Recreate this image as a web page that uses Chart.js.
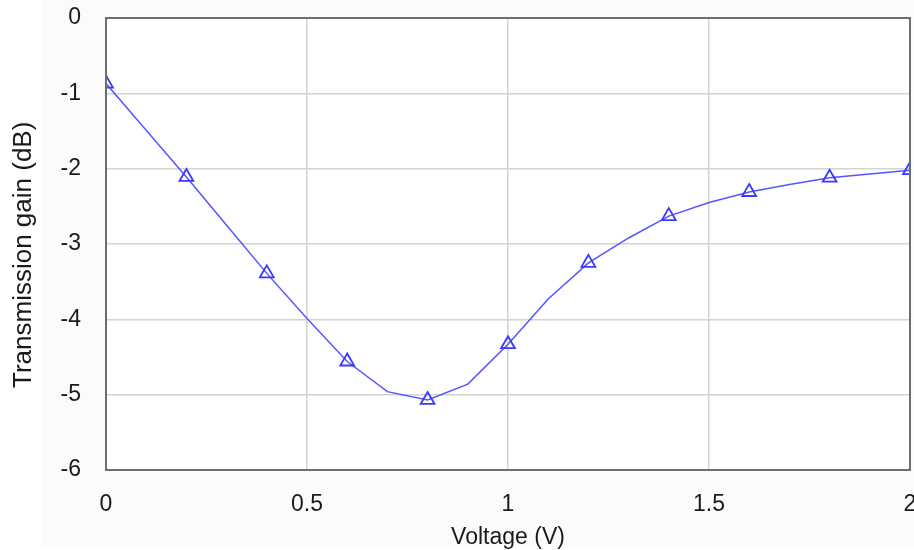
<!DOCTYPE html>
<html>
<head>
<meta charset="utf-8">
<script src="https://cdn.jsdelivr.net/npm/chart.js@4"></script>
<style>
  html, body { margin: 0; padding: 0; background: #ffffff; }
  #wrap { width: 914px; height: 550px; }
</style>
</head>
<body>
<div id="wrap"><canvas id="c" width="914" height="550"></canvas></div>
<script>
// ---- data ----
const voltage = [0, 0.1, 0.2, 0.3, 0.4, 0.5, 0.6, 0.7, 0.8, 0.9, 1.0, 1.1, 1.2, 1.3, 1.4, 1.5, 1.6, 1.7, 1.8, 1.9, 2.0];
const gain = [-0.87, -1.49, -2.11, -2.75, -3.39, -3.99, -4.56, -4.96, -5.07, -4.86, -4.33, -3.73, -3.25, -2.92, -2.63, -2.45, -2.31, -2.21, -2.12, -2.07, -2.02];
const markerVoltages = [0, 0.2, 0.4, 0.6, 0.8, 1.0, 1.2, 1.4, 1.6, 1.8, 2.0];
const xTickLabels = ['0', '0.5', '1', '1.5', '2'];
const yTickLabels = ['0', '-1', '-2', '-3', '-4', '-5', '-6'];
const xTitle = 'Voltage (V)';
const yTitle = 'Transmission gain (dB)';

const linePts = voltage.map((v, i) => ({ x: v, y: gain[i] }));
const markerPts = markerVoltages.map(v => {
  const i = voltage.findIndex(u => Math.abs(u - v) < 1e-9);
  return { x: v, y: gain[i] };
});

const FONT = "'Liberation Sans', Arial, sans-serif";

const frame = {
  id: 'frame',
  beforeDraw(chart) {
    const ctx = chart.ctx;
    ctx.save();
    ctx.fillStyle = '#ffffff';
    ctx.fillRect(0, 0, chart.width, chart.height);
    ctx.fillStyle = '#fbfbfb';
    ctx.fillRect(43, 0, chart.width - 43, 547);
    const a = chart.chartArea;
    ctx.fillStyle = '#ffffff';
    ctx.fillRect(a.left, a.top, a.right - a.left, a.bottom - a.top);
    ctx.restore();
  },
  afterDatasetsDraw(chart) {
    const ctx = chart.ctx, a = chart.chartArea;
    ctx.save();
    ctx.strokeStyle = '#6e6e6e';
    ctx.lineWidth = 2;
    ctx.strokeRect(a.left, a.top, a.right - a.left, a.bottom - a.top);
    ctx.restore();
  }
};

new Chart(document.getElementById('c'), {
  type: 'scatter',
  data: {
    datasets: [
      {
        data: linePts,
        showLine: true,
        borderColor: '#5555ff',
        borderWidth: 1.5,
        pointRadius: 0,
        tension: 0,
        clip: 0,
        order: 2
      },
      {
        data: markerPts,
        showLine: false,
        pointStyle: 'triangle',
        pointRadius: 8,
        pointBorderWidth: 1.8,
        pointBorderColor: '#3a3aff',
        pointBackgroundColor: 'rgba(0,0,0,0)',
        clip: 0,
        order: 1
      }
    ]
  },
  options: {
    responsive: false,
    animation: false,
    devicePixelRatio: 1,
    layout: { autoPadding: false, padding: { top: 18, right: 4, left: 0, bottom: 0 } },
    plugins: { legend: { display: false }, tooltip: { enabled: false } },
    scales: {
      x: {
        type: 'linear',
        min: 0, max: 2,
        afterBuildTicks(s) { s.ticks = xTickLabels.map(t => ({ value: parseFloat(t) })); },
        afterFit(s) { s.height = 80; s.paddingLeft = 0; s.paddingRight = 0; },
        ticks: {
          autoSkip: false,
          maxRotation: 0,
          padding: 21,
          color: '#1a1a1a',
          font: { family: FONT, size: 23 },
          callback: (v) => xTickLabels.find(t => parseFloat(t) === v) ?? ''
        },
        grid: { color: '#d3d3d3', lineWidth: 1.5, drawTicks: false },
        border: { display: false },
        title: {
          display: true, text: xTitle, color: '#1a1a1a',
          font: { family: FONT, size: 23, lineHeight: 1 },
          padding: { top: 0, bottom: 1 }
        }
      },
      y: {
        type: 'linear',
        min: -6, max: 0,
        afterBuildTicks(s) { s.ticks = yTickLabels.map(t => ({ value: parseFloat(t) })); },
        afterFit(s) { s.width = 106; s.paddingTop = 0; s.paddingBottom = 0; },
        ticks: {
          autoSkip: false,
          padding: 25,
          color: '#1a1a1a',
          font: { family: FONT, size: 23 },
          callback: (v) => yTickLabels.find(t => parseFloat(t) === v) ?? ''
        },
        grid: { color: '#d3d3d3', lineWidth: 1.5, drawTicks: false },
        border: { display: false },
        title: {
          display: true, text: yTitle + '   ', color: '#1a1a1a',
          font: { family: FONT, size: 26, lineHeight: 1.2 },
          padding: { top: 8, bottom: 0 }
        }
      }
    }
  },
  plugins: [frame]
});
</script>
</body>
</html>
